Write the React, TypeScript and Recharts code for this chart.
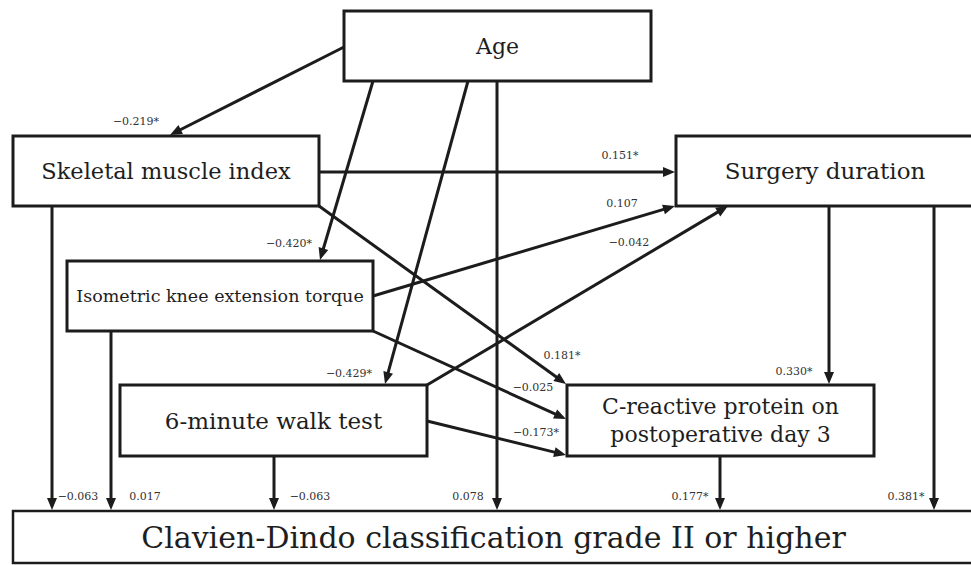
import React from 'react';
import { ScatterChart, Scatter, XAxis, YAxis, ReferenceArea, ReferenceLine } from 'recharts';

const W = 971;
const H = 565;
const INK = '#1c1c1c';
const FONT = '"DejaVu Serif", "Liberation Serif", serif';

// variables of the path model
const nodeIds = ['age', 'smi', 'knee', 'walk', 'crp', 'surgery', 'clavien'];
const nodeLabels = [
  ['Age'],
  ['Skeletal muscle index'],
  ['Isometric knee extension torque'],
  ['6-minute walk test'],
  ['C-reactive protein on', 'postoperative day 3'],
  ['Surgery duration'],
  ['Clavien-Dindo classification grade II or higher'],
];

// paths and their standardized coefficients (* = significant)
const pathFrom = ['age', 'age', 'age', 'age', 'smi', 'smi', 'smi', 'knee', 'knee', 'knee', 'walk', 'walk', 'walk', 'surgery', 'surgery', 'crp'];
const pathTo = ['smi', 'knee', 'walk', 'clavien', 'surgery', 'crp', 'clavien', 'surgery', 'crp', 'clavien', 'surgery', 'crp', 'clavien', 'crp', 'clavien', 'clavien'];
const pathCoefficients = ['−0.219*', '−0.420*', '−0.429*', '0.078', '0.151*', '0.181*', '−0.063', '0.107', '−0.025', '0.017', '−0.042', '−0.173*', '−0.063', '0.330*', '0.381*', '0.177*'];

// diagram layout (in diagram units)
const boxLayout: Record<string, { x1: number; x2: number; y1: number; y2: number; fontSize: number }> = {
  age: { x1: 344, x2: 651, y1: 11, y2: 81, fontSize: 22 },
  smi: { x1: 13, x2: 319, y1: 136, y2: 206, fontSize: 22.5 },
  knee: { x1: 67, x2: 373, y1: 261, y2: 331, fontSize: 17.5 },
  walk: { x1: 120, x2: 427, y1: 385, y2: 456, fontSize: 23 },
  crp: { x1: 567, x2: 874, y1: 385, y2: 456, fontSize: 22 },
  surgery: { x1: 676, x2: 980, y1: 136, y2: 206, fontSize: 23 },
  clavien: { x1: 13, x2: 980, y1: 511, y2: 563, fontSize: 30 },
};

// start / end of each path, and where its coefficient sits
const pathSegments = [
  [344, 47, 170, 135],
  [373, 81, 320, 260],
  [468, 81, 385, 384],
  [497, 81, 497, 510],
  [319, 172, 675, 172],
  [319, 206, 566, 384],
  [52, 206, 52, 510],
  [373, 296, 675, 206],
  [373, 331, 566, 419],
  [111, 331, 111, 510],
  [427, 385, 728, 206],
  [427, 421, 566, 455],
  [274, 456, 274, 510],
  [829, 206, 829, 384],
  [934, 206, 934, 510],
  [720, 456, 720, 510],
];
const labelSpots = [
  [136, 121], [289, 243], [349, 373], [468, 496], [620, 155], [562, 355], [78, 496], [622, 203],
  [533, 387], [145, 496], [629, 242], [536, 432], [310, 496], [794, 371], [906, 496], [690, 496],
];

const nodeTextData = nodeIds.map((id, i) => {
  const b = boxLayout[id];
  return { x: (b.x1 + Math.min(b.x2, W + 3)) / 2, y: (b.y1 + b.y2) / 2, lines: nodeLabels[i], fontSize: b.fontSize };
});

const coefData = pathCoefficients.map((c, i) => ({ x: labelSpots[i][0], y: labelSpots[i][1], text: c }));

const Arrow = (props: any) => {
  const { x1, y1, x2, y2 } = props;
  const a = Math.atan2(y2 - y1, x2 - x1);
  const len = 12;
  const half = 5;
  const bx = x2 - len * Math.cos(a);
  const by = y2 - len * Math.sin(a);
  const px = -Math.sin(a) * half;
  const py = Math.cos(a) * half;
  return (
    <g>
      <line x1={x1} y1={y1} x2={bx + Math.cos(a)} y2={by + Math.sin(a)} stroke={INK} strokeWidth={3} />
      <polygon points={`${x2},${y2} ${bx + px},${by + py} ${bx - px},${by - py}`} fill={INK} />
    </g>
  );
};

const NodeText = (props: any) => {
  const { cx, cy, payload } = props;
  const lines: string[] = payload.lines;
  const lh = payload.fontSize * 1.3;
  return (
    <text x={cx} textAnchor="middle" fontFamily={FONT} fontSize={payload.fontSize} fill="#1e1e1e">
      {lines.map((l, i) => (
        <tspan key={i} x={cx} y={cy + (i - (lines.length - 1) / 2) * lh} dominantBaseline="central">
          {l}
        </tspan>
      ))}
    </text>
  );
};

const CoefText = (props: any) => {
  const { cx, cy, payload } = props;
  return (
    <text x={cx} y={cy} textAnchor="middle" dominantBaseline="central" fontFamily={FONT} fontSize={11} fill="#333">
      {payload.text}
    </text>
  );
};

export default function App() {
  return (
    <div style={{ position: 'absolute', left: 0, top: 0, background: '#fff' }}>
      <ScatterChart width={W} height={H} margin={{ top: 0, right: 0, bottom: 0, left: 0 }}>
        <XAxis type="number" dataKey="x" domain={[0, W]} allowDataOverflow hide />
        <YAxis type="number" dataKey="y" domain={[0, H]} allowDataOverflow reversed hide />
        {nodeIds.map((id) => {
          const b = boxLayout[id];
          return (
            <ReferenceArea
              key={id}
              x1={b.x1}
              x2={b.x2}
              y1={b.y1}
              y2={b.y2}
              ifOverflow="visible"
              fill="#fff"
              fillOpacity={1}
              stroke={INK}
              strokeWidth={id === 'clavien' ? 2.5 : 3}
            />
          );
        })}
        {pathSegments.map((s, i) => (
          <ReferenceLine
            key={`${pathFrom[i]}-${pathTo[i]}`}
            segment={[{ x: s[0], y: s[1] }, { x: s[2], y: s[3] }]}
            ifOverflow="visible"
            shape={Arrow}
          />
        ))}
        <Scatter data={nodeTextData} shape={NodeText} isAnimationActive={false} />
        <Scatter data={coefData} shape={CoefText} isAnimationActive={false} />
      </ScatterChart>
    </div>
  );
}
